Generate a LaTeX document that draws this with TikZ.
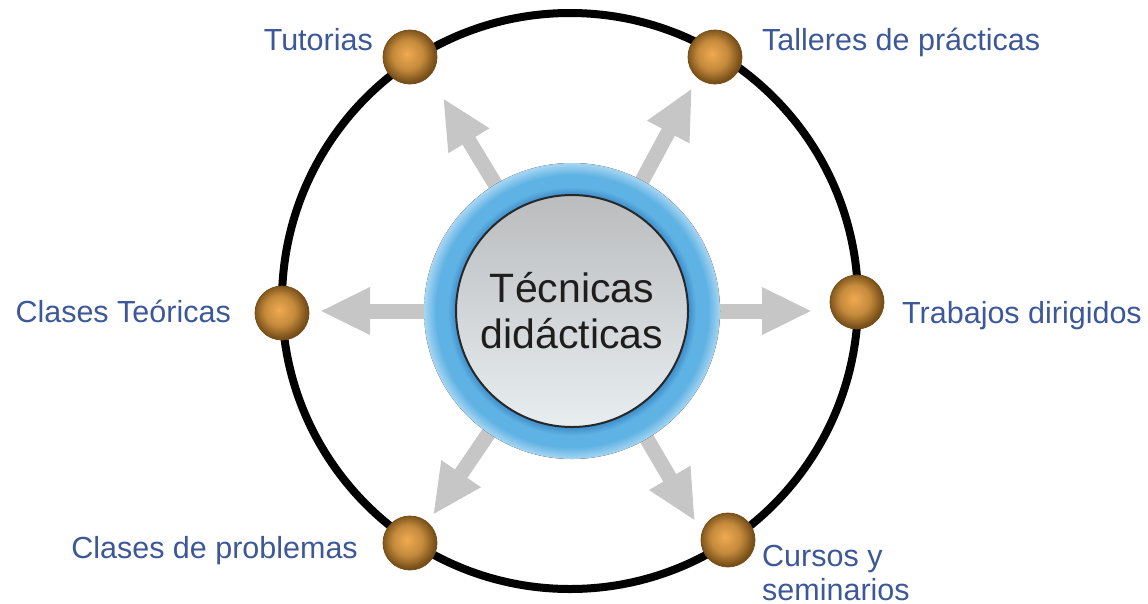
\documentclass[tikz,border=0pt]{standalone}
\usepackage{fontspec}
\setmainfont{Liberation Sans}
\usetikzlibrary{arrows.meta,calc}

\definecolor{labelblue}{RGB}{61,88,152}
\definecolor{spokegray}{RGB}{198,198,198}
\definecolor{ballhi}{RGB}{240,170,80}
\definecolor{ballmid}{RGB}{196,138,60}
\definecolor{ballrim}{RGB}{118,78,24}
\definecolor{ringdeep}{RGB}{60,140,200}
\definecolor{ringmid}{RGB}{95,178,228}
\definecolor{ringpale}{RGB}{168,214,242}
\definecolor{disctop}{RGB}{186,188,190}
\definecolor{discbot}{RGB}{232,238,240}

\pgfdeclareradialshading{ballshade}{\pgfpoint{-3bp}{3bp}}{color(0bp)=(ballhi); color(14bp)=(ballmid); color(25bp)=(ballrim); color(50bp)=(ballrim)}
\pgfdeclareradialshading{ringshade}{\pgfpoint{0bp}{0bp}}{color(0bp)=(ringdeep); color(19.6bp)=(ringdeep); color(21bp)=(ringmid); color(23bp)=(ringmid); color(25bp)=(ringpale); color(50bp)=(ringpale)}

\tikzset{
  orbit/.style={line width=8pt, black},
  ball/.style={circle, minimum size=54pt, inner sep=0pt, shading=ballshade, draw=ballrim, line width=0.8pt},
  spoke/.style={line width=15pt, spokegray, -{Triangle[length=50pt, width=44pt]}},
  core/.style={circle, minimum size=232pt, inner sep=0pt, align=center, top color=disctop, bottom color=discbot,
    draw={rgb,255:red,40;green,40;blue,40}, line width=2pt, text={rgb,255:red,30;green,30;blue,30},
    font=\fontsize{41}{46}\selectfont},
  tag/.style={inner sep=0pt, text=labelblue, font=\fontsize{30.5}{34}\selectfont}
}

\begin{document}
\begin{tikzpicture}[x=1pt, y=-1pt]
    \useasboundingbox (0,0) rectangle (1148,603);
    \coordinate (O) at (570, 301);
    \coordinate (hub) at (572, 311);

    \draw[orbit] (O) circle (288pt);

    % puntos sobre la circunferencia
    \node[ball] (tut) at (410, 57) {};
    \node[ball] (tal) at (715, 57) {};
    \node[ball] (teo) at (282, 313) {};
    \node[ball] (tra) at (857, 302) {};
    \node[ball] (pro) at (410, 543) {};
    \node[ball] (cur) at (728, 540) {};

    % puntas de las flechas
    \coordinate (tuttip) at (443, 98);
    \coordinate (taltip) at (692, 88);
    \coordinate (teotip) at (320, 311);
    \coordinate (tratip) at (812, 311);
    \coordinate (protip) at (433, 515);
    \coordinate (curtip) at (695, 521);

    \foreach \b in {tut, tal, teo, tra, pro, cur}
        \draw[spoke] ($(hub)!130pt!(\b tip)$) -- (\b tip);

    \fill[shading=ringshade] (hub) circle (148pt);
    \node[core] (tec) at (hub) {Técnicas\\didácticas};

    \node[tag, anchor=base east] (tutlbl) at (373, 50) {Tutorias};
    \node[tag, anchor=base west] (tallbl) at (762, 50) {Talleres de prácticas};
    \node[tag, anchor=base east] (teolbl) at (231, 322) {Clases Teóricas};
    \node[tag, anchor=base west] (tralbl) at (902, 323) {Trabajos dirigidos};
    \node[tag, anchor=base east] (prolbl) at (358, 558) {Clases de problemas};
    \node[tag, anchor=north west, align=left] (curlbl) at (762, 545) {Cursos y\\seminarios};
\end{tikzpicture}
\end{document}
